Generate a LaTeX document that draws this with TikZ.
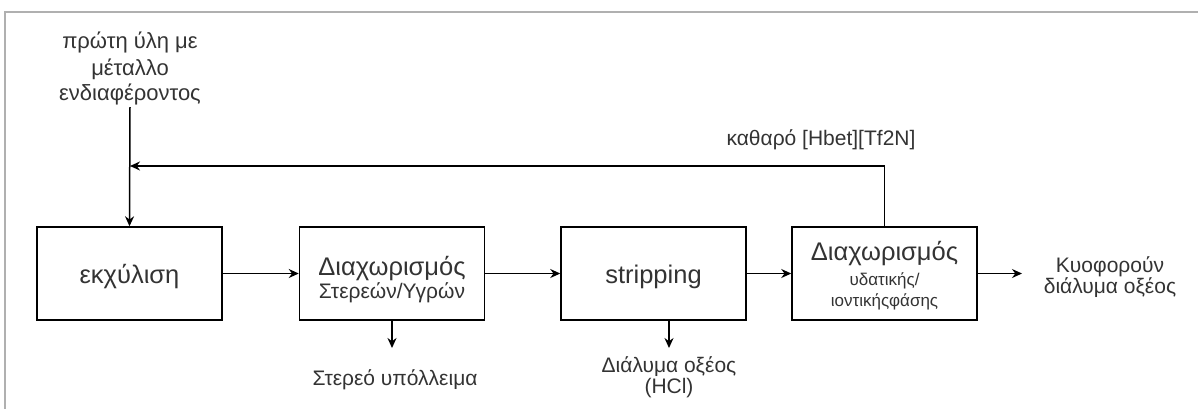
\documentclass[tikz,border=0pt]{standalone}
\usepackage{fontspec}
\setmainfont{Liberation Sans}
\usetikzlibrary{arrows.meta}
\definecolor{txt}{HTML}{333333}
\definecolor{framegray}{HTML}{B0B0B0}
\tikzset{
  stage/.style={draw=black, line width=1.5pt, minimum width=185pt, minimum height=93pt, inner sep=0pt},
  lbl/.style={text=txt, inner sep=0pt, anchor=base},
  big/.style={font=\fontsize{25.5}{30}\selectfont},
  mid/.style={font=\fontsize{21}{25}\selectfont},
  small/.style={font=\fontsize{17}{21}\selectfont},
  flow/.style={draw=black, line width=1.5pt, -{Stealth[length=10pt,width=9pt]}},
  plain/.style={draw=black, line width=1.5pt}
}
\begin{document}
\begin{tikzpicture}[x=1pt,y=-1pt]
\useasboundingbox (0,0) rectangle (1198,408);
% sheet edge
\draw[framegray, line width=2pt] (5,410) -- (5,12) -- (1200,12);

% process stages
\node[stage] (b1) at (129.5,273.5) {};
\node[stage] (b2) at (392,273.5) {};
\node[stage] (b3) at (653.5,273.5) {};
\node[stage] (b4) at (884.5,273.5) {};

% stage texts
\node[lbl,big] (t1) at (129.5,283) {εκχύλιση};
\node[lbl,big] (t2a) at (392,275) {Διαχωρισμός};
\node[lbl,mid] (t2b) at (392,298) {Στερεών/Υγρών};
\node[lbl,big] (t3) at (653.5,283) {stripping};
\node[lbl,big] (t4a) at (884.5,260) {Διαχωρισμός};
\node[lbl,small] (t4b) at (884.5,285) {υδατικής/};
\node[lbl,small] (t4c) at (884.5,306) {ιοντικήςφάσης};

% feed
\node[lbl,font=\fontsize{22}{26}\selectfont] (s1) at (130,48) {πρώτη ύλη με};
\node[lbl,font=\fontsize{22}{26}\selectfont] (s2) at (130,75) {μέταλλο};
\node[lbl,font=\fontsize{22}{26}\selectfont] (s3) at (130,100) {ενδιαφέροντος};

% other labels
\node[lbl,mid] (rec) at (821,145) {καθαρό [Hbet][Tf2N]};
\node[lbl,mid] (sol) at (395,385) {Στερεό υπόλλειμα};
\node[lbl,mid] (acid1) at (669,372) {Διάλυμα οξέος};
\node[lbl,mid] (acid2) at (669,393) {(HCl)};
\node[lbl,mid] (prod1) at (1110,272) {Κυοφορούν};
\node[lbl,mid] (prod2) at (1110,293) {διάλυμα οξέος};

% free ends
\coordinate (merge) at (130,166);
\coordinate (feedtop) at (130,107);
\coordinate (r2) at (392,348);
\coordinate (r3) at (669,348);
\coordinate (out) at (1022,273.5);

% connectors
\draw[flow] (feedtop) -- (b1.north);
\draw[flow] (b4.north) |- (merge);
\draw[flow] (b1.east) -- (b2.west);
\draw[flow] (b2.east) -- (b3.west);
\draw[flow] (b3.east) -- (b4.west);
\draw[flow] (b4.east) -- (out);
\draw[flow] (b2.south) -- (r2);
\draw[flow] (b3.south -| r3) -- (r3);
\end{tikzpicture}
\end{document}
